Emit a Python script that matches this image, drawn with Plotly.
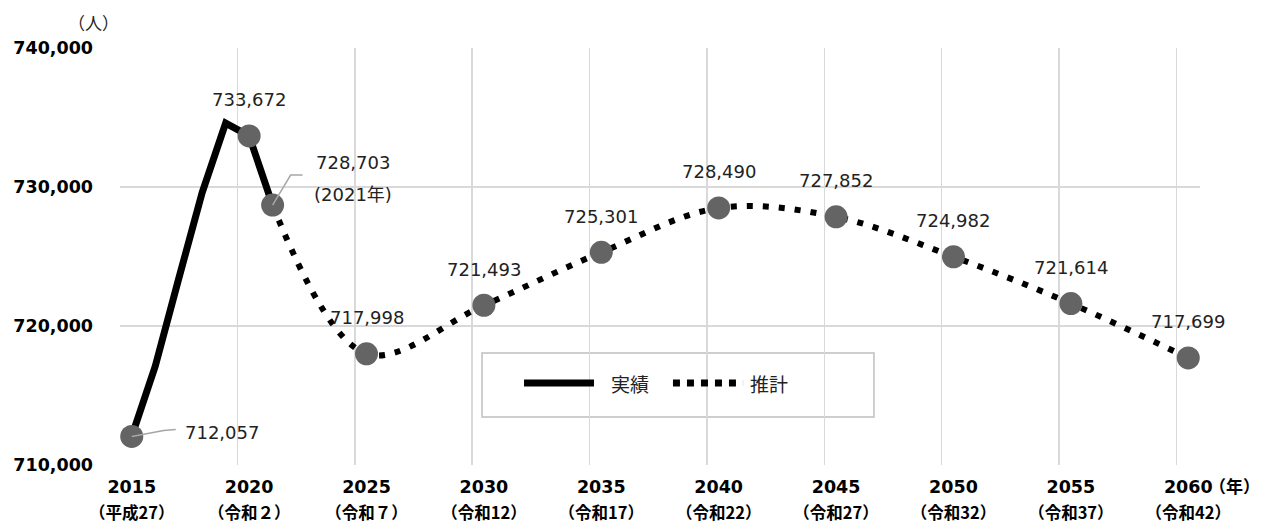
import plotly.graph_objects as go

# ---- data ----
actual_years = [2015, 2016, 2017, 2018, 2019, 2020, 2021]
actual_values = [712057, 717100, 723400, 729600, 734600, 733672, 728703]

proj_years = [2021, 2025, 2030, 2035, 2040, 2045, 2050, 2055, 2060]
proj_values = [728703, 717998, 721493, 725301, 728490, 727852, 724982, 721614, 717699]

point_years = [2015, 2020, 2021, 2025, 2030, 2035, 2040, 2045, 2050, 2055, 2060]
point_values = [712057, 733672, 728703, 717998, 721493, 725301, 728490, 727852, 724982, 721614, 717699]

tick_years = [2015, 2020, 2025, 2030, 2035, 2040, 2045, 2050, 2055, 2060]
tick_eras = ["（平成27）", "（令和２）", "（令和７）", "（令和12）", "（令和17）",
             "（令和22）", "（令和27）", "（令和32）", "（令和37）", "（令和42）"]
y_ticks = [710000, 720000, 730000, 740000]
legend_names = ["実績", "推計"]
y_unit = "（人）"
x_unit = "（年）"
note_2021 = "(2021年)"

FONT = "DejaVu Sans, Noto Sans CJK JP"
CJK = "Noto Sans CJK JP"
GRID = "#d9d9d9"
MARK = "#646464"
LEAD = "#a6a6a6"

fig = go.Figure()

fig.add_trace(go.Scatter(
    x=actual_years, y=actual_values, mode="lines", name=legend_names[0],
    line=dict(color="black", width=7), showlegend=False, hoverinfo="skip"))

fig.add_trace(go.Scatter(
    x=proj_years, y=proj_values, mode="lines", name=legend_names[1],
    line=dict(color="black", width=6, dash="6px,10px", shape="spline", smoothing=1),
    showlegend=False, hoverinfo="skip"))

fig.add_trace(go.Scatter(
    x=point_years, y=point_values, mode="markers",
    marker=dict(color=MARK, size=23, line=dict(width=0)),
    showlegend=False, hoverinfo="skip"))

ticktext = [
    f"<span style='font-size:17.5px'>{y}</span><br>"
    f"<span style='font-family:{CJK};font-size:16.5px'>{e}</span>"
    for y, e in zip(tick_years, tick_eras)
]

annotations = []
for yr, v in zip(point_years, point_values):
    if yr == 2015:
        annotations.append(dict(x=yr, y=v, text=f"{v:,}", showarrow=False,
                                xanchor="left", yanchor="middle", xshift=51, yshift=4))
    elif yr == 2021:
        annotations.append(dict(x=yr, y=v, text=f"{v:,}", showarrow=False,
                                xanchor="left", yanchor="middle", xshift=41, yshift=43))
        annotations.append(dict(x=yr, y=v, text=note_2021, showarrow=False,
                                xanchor="left", yanchor="middle", xshift=39, yshift=11))
    else:
        annotations.append(dict(x=yr, y=v, text=f"{v:,}", showarrow=False,
                                xanchor="center", yanchor="middle", yshift=36))

annotations.append(dict(xref="paper", yref="paper", x=-0.025, y=1.062,
                        xanchor="center", yanchor="middle",
                        text=y_unit, showarrow=False,
                        font=dict(family=CJK, size=17, color="#222")))
annotations.append(dict(xref="paper", yref="paper", x=1.032, y=-0.05,
                        xanchor="center", yanchor="middle",
                        text=x_unit, showarrow=False,
                        font=dict(family=CJK, size=17, color="black", weight="bold")))
# legend texts
annotations.append(dict(xref="paper", yref="paper", x=0.4722, y=0.1966,
                        xanchor="center", yanchor="middle",
                        text=legend_names[0], showarrow=False,
                        font=dict(family=CJK, size=19, color="#222")))
annotations.append(dict(xref="paper", yref="paper", x=0.6005, y=0.1966,
                        xanchor="center", yanchor="middle",
                        text=legend_names[1], showarrow=False,
                        font=dict(family=CJK, size=19, color="#222")))

shapes = [
    # legend box
    dict(type="rect", xref="paper", yref="paper", x0=0.3352, x1=0.6981,
         y0=0.1151, y1=0.2686, line=dict(color="#bfbfbf", width=1.5),
         fillcolor="white", layer="between"),
    dict(type="line", xref="paper", yref="paper", x0=0.3741, x1=0.4389,
         y0=0.1966, y1=0.1966, line=dict(color="black", width=7), layer="above"),
    dict(type="line", xref="paper", yref="paper", x0=0.5120, x1=0.5769,
         y0=0.1966, y1=0.1966, line=dict(color="black", width=7, dash="7px,7px"),
         layer="above"),
    # leader lines
    dict(type="path", xref="x", yref="y", xsizemode="pixel", ysizemode="pixel",
         xanchor=point_years[0], yanchor=point_values[0],
         path="M0,0 L32,6 L44,7", line=dict(color=LEAD, width=1.5), layer="above"),
    dict(type="path", xref="x", yref="y", xsizemode="pixel", ysizemode="pixel",
         xanchor=point_years[2], yanchor=point_values[2],
         path="M0,0 L18,30 L30,30", line=dict(color=LEAD, width=1.5), layer="above"),
]

fig.update_layout(
    template="none",
    width=1274, height=527,
    margin=dict(l=120, r=74, t=48, b=62, autoexpand=False),
    paper_bgcolor="white", plot_bgcolor="white",
    font=dict(family=FONT, size=18, color="#222"),
    showlegend=False,
    hovermode=False,
    annotations=annotations,
    shapes=shapes,
    xaxis=dict(
        range=[2014.5, 2060.5], tickmode="array", tickvals=tick_years,
        ticktext=ticktext, showgrid=False, zeroline=False, showline=False,
        ticks="", ticklabelstandoff=6, automargin=False,
        tickfont=dict(family=FONT, size=20.5, color="black", weight="bold"),
        minor=dict(tick0=2014.5, dtick=5, showgrid=True, gridcolor=GRID, gridwidth=1.5, ticks=""),
        fixedrange=True,
    ),
    yaxis=dict(
        range=[710000, 740000], tickmode="array", tickvals=y_ticks,
        tickformat=",", showgrid=True, gridcolor=GRID, gridwidth=1.5,
        zeroline=False, showline=False, ticks="", ticklabelstandoff=26,
        automargin=False,
        tickfont=dict(family=FONT, size=17.5, color="black", weight="bold"),
        fixedrange=True,
    ),
)

fig.write_html("out.html", config={"displayModeBar": False, "staticPlot": True},
               post_script="document.body.style.margin='0px';document.body.style.overflow='hidden';")
